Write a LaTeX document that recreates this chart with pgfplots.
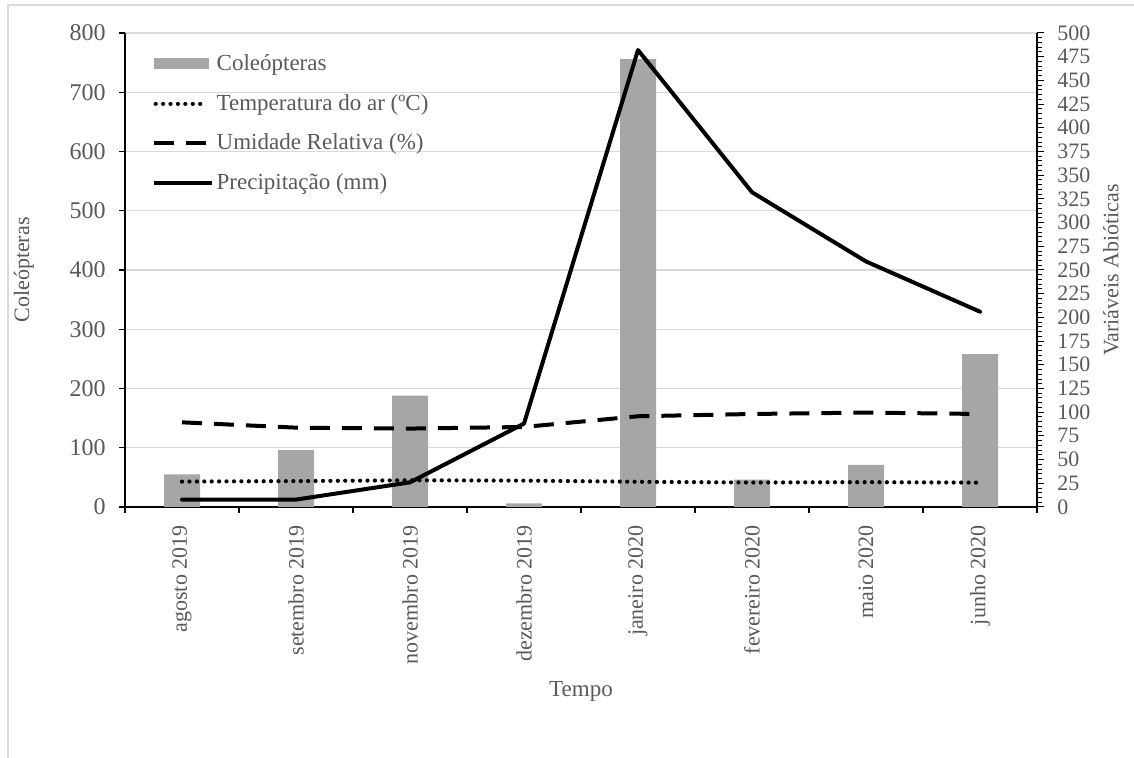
\documentclass[border=0pt]{standalone}
\usepackage{fontspec}
\setmainfont{Liberation Serif}
\usepackage{pgfplots}
\pgfplotsset{compat=1.18}
\definecolor{txt}{HTML}{595959}
\definecolor{barc}{HTML}{A6A6A6}
\definecolor{gridc}{HTML}{D9D9D9}
\tikzset{
  tempstyle/.style={black, line width=2.1pt, line cap=round, dash pattern=on 0.01pt off 3.7pt},
  humstyle/.style={black, line width=2pt, dash pattern=on 10pt off 6pt},
  precstyle/.style={black, line width=2pt, line join=round, line cap=round},
}
\pgfplotsset{
  barleg/.style={legend image code/.code={\fill[barc] (0pt,-2.75pt) rectangle (27.5pt,2.75pt);}},
  templeg/.style={legend image code/.code={\draw[tempstyle] (1pt,0pt) -- (26pt,0pt);}},
  humleg/.style={legend image code/.code={\draw[humstyle] (0pt,0pt) -- (27.5pt,0pt);}},
  precleg/.style={legend image code/.code={\draw[precstyle, line cap=butt] (0pt,0pt) -- (29pt,0pt);}},
}
\newcommand{\hfont}{\fontsize{11.5}{13}\selectfont}
\newcommand{\nfont}{\fontsize{12}{13}\selectfont}
\newcommand{\rfont}{\fontsize{11}{12.5}\selectfont}
\begin{document}
\begin{tikzpicture}
\useasboundingbox (0,0) rectangle (567pt,379pt);
\draw[gridc, line width=1pt] (4pt,0) -- (4pt,376.5pt) -- (567pt,376.5pt);

\begin{axis}[
  at={(62.5pt,125.5pt)}, anchor=south west,
  scale only axis, width=456pt, height=237pt,
  xmin=-0.5, xmax=7.5, ymin=0, ymax=800,
  axis x line*=bottom, axis y line*=left,
  axis line style={black, line width=0.8pt},
  ytick={0,100,...,800},
  xtick={-0.5,0.5,...,7.5}, xticklabels={},
  extra x ticks={0,1,2,3,4,5,6,7},
  extra x tick labels={agosto 2019, setembro 2019, novembro 2019, dezembro 2019, janeiro 2020, fevereiro 2020, maio 2020, junho 2020},
  extra x tick style={major tick length=0pt},
  tick align=outside,
  major tick length=3pt,
  tick style={black, line width=0.6pt},
  ymajorgrids, grid style={gridc, line width=0.7pt},
  /pgf/number format/assume math mode=true,
  yticklabel style={text=txt, inner sep=0pt, xshift=-6.5pt, font=\nfont},
  xticklabel style={yshift=-9pt, rotate=90, anchor=east, inner sep=0pt, text=txt, font=\rfont},
  every axis y label/.style={at={(axis description cs:-0.111,0.5)}, rotate=90, anchor=center, text=txt, font=\rfont},
  ylabel={Coleópteras},
  every axis x label/.style={at={(axis description cs:0.5,-0.39)}, anchor=center, text=txt, font=\hfont},
  xlabel={Tempo},
  legend cell align=left,
  legend style={draw=none, fill=none, at={(axis description cs:0.0288,0.962)}, anchor=north west,
    text=txt, font=\hfont, row sep=7.4pt, inner sep=0pt,
    nodes={inner sep=1.5pt}},
]
\addplot[ybar, bar width=18pt, fill=barc, draw=none, barleg]
  coordinates {(0,55) (1,96) (2,188) (3,6) (4,756) (5,46) (6,71) (7,258)};
\addlegendentry{Coleópteras}
\addlegendimage{templeg}
\addlegendentry{Temperatura do ar (ºC)}
\addlegendimage{humleg}
\addlegendentry{Umidade Relativa (\%)}
\addlegendimage{precleg}
\addlegendentry{Precipitação (mm)}
\end{axis}

\begin{axis}[
  at={(62.5pt,125.5pt)}, anchor=south west,
  scale only axis, width=456pt, height=237pt,
  xmin=-0.5, xmax=7.5, ymin=0, ymax=500,
  axis y line*=right, axis x line=none,
  axis line style={black, line width=0.8pt},
  ytick={0,25,...,500},
  minor y tick num=4,
  tick align=outside,
  major tick length=3.5pt, minor tick length=2.5pt,
  tick style={black, line width=0.5pt},
  /pgf/number format/assume math mode=true,
  yticklabel style={text=txt, inner sep=0pt, anchor=west, xshift=6.5pt, font=\fontsize{11}{12}\selectfont},
  every axis y label/.style={at={(axis description cs:1.081,0.5)}, rotate=90, anchor=center, text=txt, font=\rfont},
  ylabel={Variáveis Abióticas},
  clip=false,
]
\addplot[tempstyle] coordinates {(0,26.8) (1,27.3) (2,28.2) (3,27.8) (4,26.6) (5,25.8) (6,26.2) (7,25.7)};
\addplot[humstyle] coordinates {(0,89.3) (1,83.7) (2,82.7) (3,84.4) (4,95.7) (5,98.1) (6,99.6) (7,98.1)};
\addplot[precstyle] coordinates {(0,7.8) (1,7.8) (2,26) (3,88) (4,482) (5,332) (6,259) (7,206)};
\end{axis}
\end{tikzpicture}
\end{document}
